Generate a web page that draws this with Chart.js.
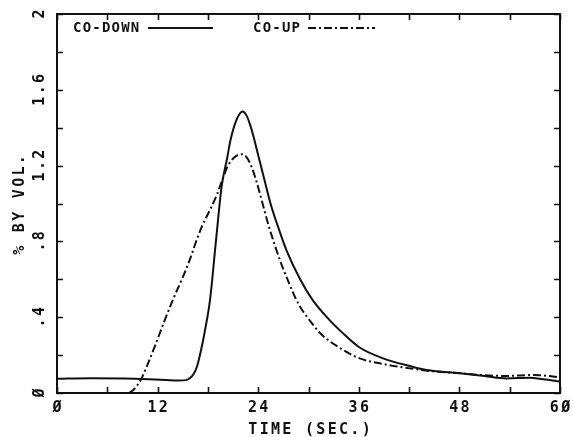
<!DOCTYPE html>
<html>
<head>
<meta charset="utf-8">
<script src="https://cdn.jsdelivr.net/npm/chart.js@4/dist/chart.umd.min.js"></script>
<style>
  html, body { margin: 0; padding: 0; background: #fff; }
  #wrap { width: 573px; height: 437px; }
</style>
</head>
<body>
<div id="wrap"><canvas id="co_chart" width="573" height="437"></canvas></div>
<script>
// series: time (sec) and % by vol
var down_time = [0, 4, 8, 11, 13, 14.5, 15.4, 15.9, 16.3, 16.7, 17.2, 17.65, 18.25, 19, 19.64, 20.3, 20.7, 21.4, 22.15, 22.6, 23, 23.4, 23.8, 24.6, 25.6, 26.5, 27.4, 29, 30.5, 32.4, 34, 36.1, 38.9, 42.1, 44.1, 48.1, 51, 53.6, 56.4, 58, 60];
var down_vals = [0.075, 0.078, 0.077, 0.073, 0.069, 0.066, 0.068, 0.08, 0.1, 0.14, 0.23, 0.33, 0.49, 0.82, 1.09, 1.24, 1.335, 1.44, 1.485, 1.465, 1.42, 1.36, 1.29, 1.15, 0.98, 0.86, 0.75, 0.6, 0.49, 0.39, 0.32, 0.24, 0.183, 0.142, 0.121, 0.104, 0.09, 0.077, 0.08, 0.072, 0.06];

var up_time = [8.6, 9.2, 10, 10.8, 11.7, 12.9, 13.9, 14.9, 15.9, 16.6, 17.3, 18.4, 19.1, 19.6, 20.4, 21.2, 22, 22.6, 23.2, 23.8, 24.4, 25.2, 26.6, 27.4, 28.8, 30.2, 31.4, 33.8, 36.1, 38.9, 42.1, 44.1, 48.1, 50.5, 53.6, 56.8, 60];
var up_vals = [0, 0.02, 0.07, 0.15, 0.25, 0.39, 0.5, 0.6, 0.71, 0.8, 0.88, 0.98, 1.05, 1.11, 1.2, 1.245, 1.26, 1.245, 1.195, 1.115, 1.02, 0.89, 0.7, 0.61, 0.47, 0.38, 0.315, 0.236, 0.183, 0.153, 0.13, 0.118, 0.104, 0.095, 0.09, 0.095, 0.083];

var series_labels = ['CO-DOWN', 'CO-UP'];

var x_tick_values = [0, 12, 24, 36, 48, 60];
var x_tick_labels = ['Ø', '12', '24', '36', '48', '6Ø'];
var y_tick_values = [0, 0.4, 0.8, 1.2, 1.6, 2];
var y_tick_labels = ['Ø', '.4', '.8', '1.2', '1.6', '2'];

var x_title = 'TIME (SEC.)';
var y_title = '% BY VOL.';

var ink = '#111';
var up_dash = [8, 3, 2, 3];

function toPoints(t, v) {
    var pts = [];
    for (var i = 0; i < t.length; i++) {
        pts.push({ x: t[i], y: v[i] });
    }
    return pts;
}

function spacedText(ctx, txt, x, y, spacing, align) {
    // wide plotter lettering via canvas letterSpacing
    ctx.letterSpacing = spacing + 'px';
    var w = ctx.measureText(txt).width - spacing;
    var left = x;
    if (align == 'center') left = x - w / 2;
    ctx.textAlign = 'left';
    ctx.fillText(txt, left, y);
    ctx.letterSpacing = '0px';
}

// frame, inward ticks, rotated y labels, titles and the legend
var plotterAxes = {
    id: 'plotterAxes',
    afterDraw: function (chart) {
        var ctx = chart.ctx;
        var area = chart.chartArea;
        var xs = chart.scales.x;
        var ys = chart.scales.y;
        var tick_len = 6;

        ctx.save();
        ctx.strokeStyle = ink;
        ctx.fillStyle = ink;

        // ticks on all four sides
        ctx.lineWidth = 1.6;
        ctx.beginPath();
        xs.ticks.forEach(function (t) {
            var px = Math.round(xs.getPixelForValue(t.value)) + 0.5;
            ctx.moveTo(px, area.bottom);
            ctx.lineTo(px, area.bottom - tick_len);
            ctx.moveTo(px, area.top);
            ctx.lineTo(px, area.top + tick_len);
        });
        ys.ticks.forEach(function (t) {
            var py = Math.round(ys.getPixelForValue(t.value)) + 0.5;
            ctx.moveTo(area.left, py);
            ctx.lineTo(area.left + tick_len, py);
            ctx.moveTo(area.right, py);
            ctx.lineTo(area.right - tick_len, py);
        });
        ctx.stroke();

        // frame
        ctx.lineWidth = 2;
        ctx.strokeRect(area.left, area.top, area.right - area.left, area.bottom - area.top);

        ctx.textBaseline = 'middle';

        // x tick labels
        ctx.font = 'bold 15px "DejaVu Sans Mono"';
        for (var i = 0; i < x_tick_values.length; i++) {
            var px = xs.getPixelForValue(x_tick_values[i]);
            spacedText(ctx, x_tick_labels[i], px, area.bottom + 15, 2.3, 'center');
        }

        // x title
        spacedText(ctx, x_title, (area.left + area.right) / 2 + 1, area.bottom + 37, 2.3, 'center');

        // y tick labels, turned to read bottom up
        for (var j = 0; j < y_tick_values.length; j++) {
            var py = ys.getPixelForValue(y_tick_values[j]);
            ctx.save();
            ctx.translate(area.left - 17, py);
            ctx.rotate(-Math.PI / 2);
            spacedText(ctx, y_tick_labels[j], 0, 0, 2.3, 'center');
            ctx.restore();
        }

        // y title
        ctx.save();
        ctx.translate(20, 205);
        ctx.rotate(-Math.PI / 2);
        spacedText(ctx, y_title, 0, 0, 2.3, 'center');
        ctx.restore();

        // legend: label then a sample of the line
        ctx.font = 'bold 14px "DejaVu Sans Mono"';
        var legend_y = area.top + 14;
        var entries = [
            { x: area.left + 16, line0: 148, line1: 213, dash: [] },
            { x: area.left + 196, line0: 308, line1: 375, dash: up_dash }
        ];
        entries.forEach(function (e, k) {
            spacedText(ctx, chart.data.datasets[k].label, e.x, legend_y, 1.2, 'left');
            ctx.lineWidth = 1.8;
            ctx.setLineDash(e.dash);
            ctx.beginPath();
            ctx.moveTo(e.line0, legend_y);
            ctx.lineTo(e.line1, legend_y);
            ctx.stroke();
            ctx.setLineDash([]);
        });

        ctx.restore();
    }
};

var canvas = document.getElementById('co_chart');

var setup = {
    type: 'line',
    data: {
        datasets: [
            {
                label: series_labels[0],
                data: toPoints(down_time, down_vals),
                borderColor: ink,
                borderWidth: 2,
                pointRadius: 0,
                cubicInterpolationMode: 'monotone',
                fill: false
            },
            {
                label: series_labels[1],
                data: toPoints(up_time, up_vals),
                borderColor: ink,
                borderWidth: 2,
                borderDash: up_dash,
                pointRadius: 0,
                cubicInterpolationMode: 'monotone',
                fill: false
            }
        ]
    },
    options: {
        responsive: false,
        animation: false,
        devicePixelRatio: 1,
        layout: { padding: { left: 0, right: 13, top: 14, bottom: 0 } },
        plugins: {
            legend: { display: false },
            tooltip: { enabled: false }
        },
        scales: {
            x: {
                type: 'linear',
                min: 0,
                max: 60,
                ticks: { stepSize: 6, display: false },
                grid: { display: false },
                border: { display: false },
                afterFit: function (s) { s.height = 44; }
            },
            y: {
                type: 'linear',
                min: 0,
                max: 2,
                ticks: { stepSize: 0.2, display: false },
                grid: { display: false },
                border: { display: false },
                afterFit: function (s) { s.width = 57; }
            }
        }
    },
    plugins: [plotterAxes]
};

var chart = new Chart(canvas, setup);
</script>
</body>
</html>
